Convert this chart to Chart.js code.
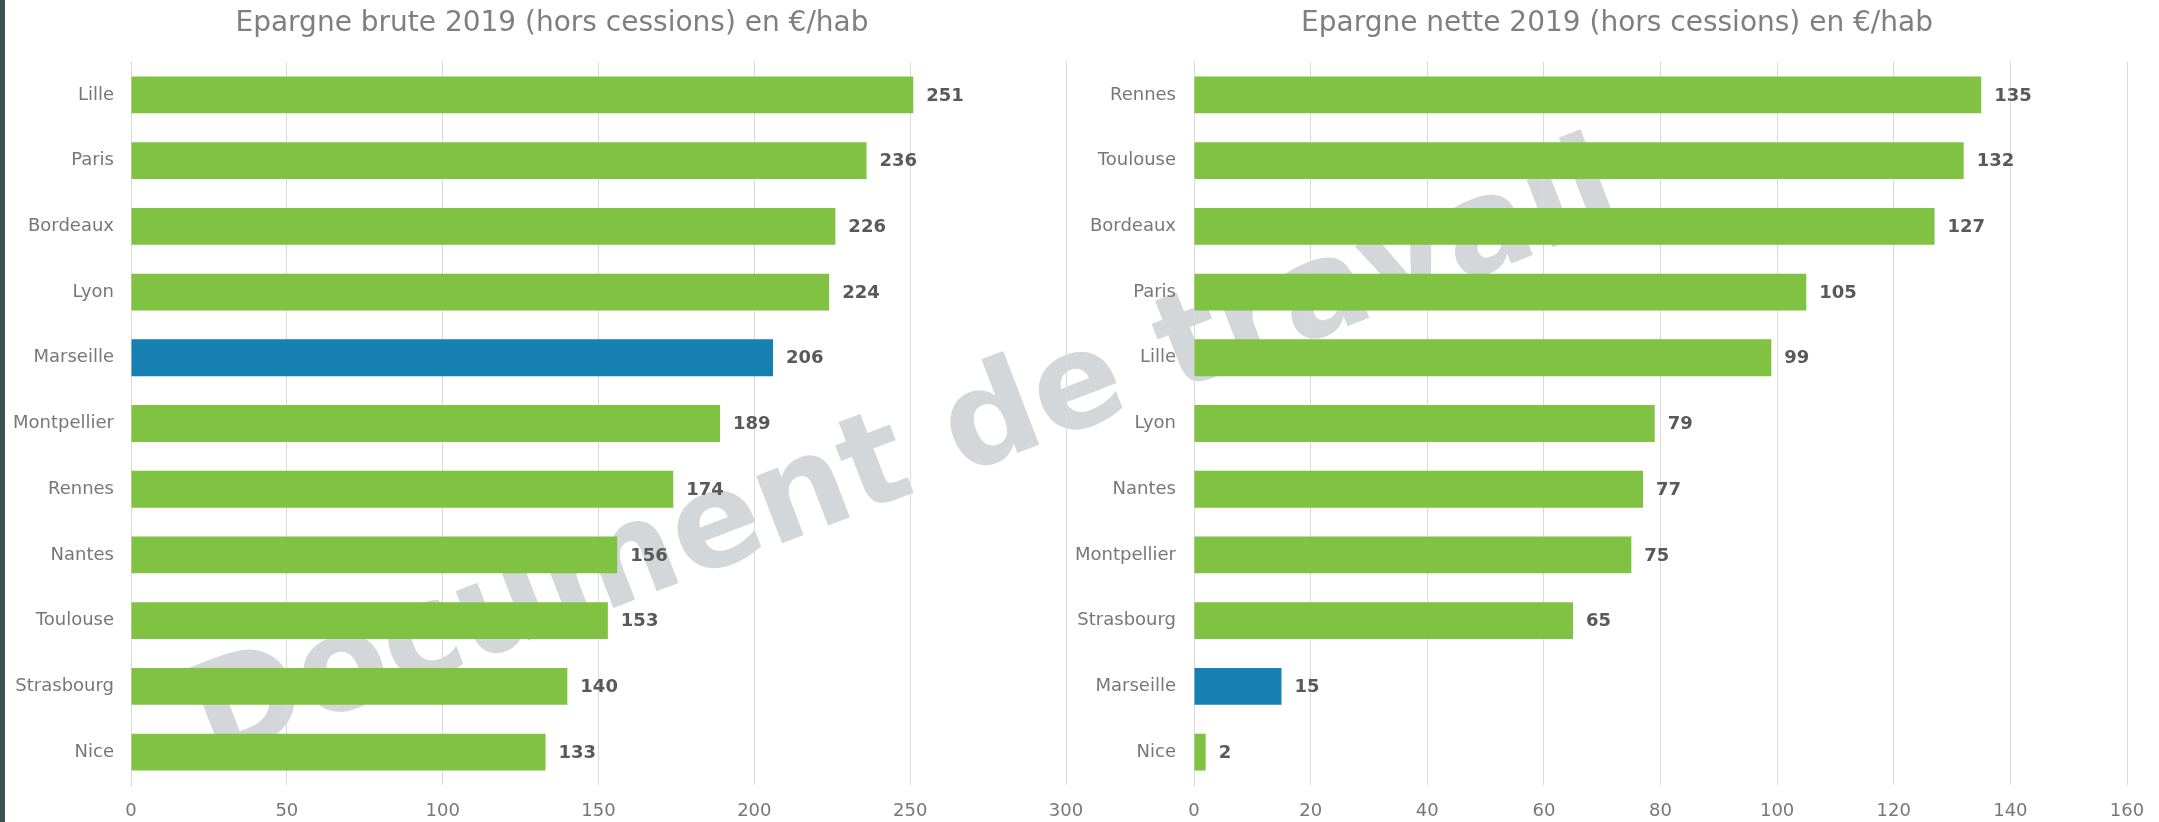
<!DOCTYPE html>
<html>
<head>
<meta charset="utf-8">
<script src="https://cdn.jsdelivr.net/npm/chart.js@4"></script>
<style>
  html, body { margin: 0; padding: 0; background: #ffffff; }
  body { width: 2159px; height: 822px; position: relative; overflow: hidden; }
  canvas { position: absolute; top: 0; }
  #c1 { left: 0; }
  #c2 { left: 1070px; }
  #strip { position: absolute; left: 0; top: 0; width: 5px; height: 822px; background: #3c5250; }
</style>
</head>
<body>
<canvas id="c1" width="1100" height="822"></canvas>
<canvas id="c2" width="1089" height="822"></canvas>
<div id="strip"></div>
<script>
// ---- Data ----
const brutTitle = "Epargne brute 2019 (hors cessions) en €/hab";
const brutCities = ["Lille", "Paris", "Bordeaux", "Lyon", "Marseille", "Montpellier", "Rennes", "Nantes", "Toulouse", "Strasbourg", "Nice"];
const brutValues = [251, 236, 226, 224, 206, 189, 174, 156, 153, 140, 133];
const brutTicks = [0, 50, 100, 150, 200, 250, 300];

const netTitle = "Epargne nette 2019 (hors cessions) en €/hab";
const netCities = ["Rennes", "Toulouse", "Bordeaux", "Paris", "Lille", "Lyon", "Nantes", "Montpellier", "Strasbourg", "Marseille", "Nice"];
const netValues = [135, 132, 127, 105, 99, 79, 77, 75, 65, 15, 2];
const netTicks = [0, 20, 40, 60, 80, 100, 120, 140, 160];

const highlightCity = "Marseille";
const watermarkText = "Document de travail";

// ---- Styles ----
const FONT = '"DejaVu Sans", Verdana, sans-serif';
const GREEN = '#80c242';
const BLUE = '#1680b3';
const GRID = '#d9d9d9';
const LABEL = '#777777';

const watermarkPlugin = {
  id: 'watermark',
  beforeDraw(chart, args, opts) {
    const ctx = chart.ctx;
    ctx.save();
    ctx.translate(212 - opts.offsetX, 762);
    ctx.rotate(-21 * Math.PI / 180);
    ctx.font = 'bold 132px ' + FONT;
    ctx.fillStyle = '#d3d7d9';
    ctx.textAlign = 'left';
    ctx.textBaseline = 'alphabetic';
    ctx.fillText(watermarkText, 0, 0);
    ctx.restore();
  }
};

const titleShiftPlugin = {
  id: 'titleShift',
  afterLayout(chart, args, opts) {
    const tb = chart.titleBlock;
    if (tb) {
      const half = (tb.right - tb.left) / 2;
      tb.left = opts.center - half;
      tb.right = opts.center + half;
    }
  }
};

const valueLabelPlugin = {
  id: 'valueLabels',
  afterDatasetsDraw(chart) {
    const ctx = chart.ctx;
    const meta = chart.getDatasetMeta(0);
    const data = chart.data.datasets[0].data;
    ctx.save();
    ctx.font = 'bold 18px ' + FONT;
    ctx.fillStyle = '#595959';
    ctx.textAlign = 'left';
    ctx.textBaseline = 'middle';
    meta.data.forEach((bar, i) => {
      ctx.fillText(String(data[i]), bar.x + 13, bar.y + 1);
    });
    ctx.restore();
  }
};

function makeChart(id, title, cities, values, ticks, opts) {
  const colors = cities.map(c => c === highlightCity ? BLUE : GREEN);
  return new Chart(document.getElementById(id), {
    type: 'bar',
    data: {
      labels: cities,
      datasets: [{
        data: values,
        backgroundColor: colors,
        borderWidth: 0,
        barPercentage: 0.56,
        categoryPercentage: 1.0
      }]
    },
    options: {
      indexAxis: 'y',
      responsive: false,
      animation: false,
      devicePixelRatio: 1,
      layout: { padding: { top: 0, right: opts.padRight, bottom: 0, left: 0 } },
      plugins: {
        legend: { display: false },
        tooltip: { enabled: false },
        title: {
          display: true,
          text: title,
          color: '#7f7f7f',
          font: { family: FONT, size: 28, weight: 'normal', lineHeight: 1.2 },
          padding: { top: 7, bottom: 21.4 }
        },
        watermark: { offsetX: opts.offsetX },
        titleShift: { center: opts.titleCenter }
      },
      scales: {
        x: {
          type: 'linear',
          min: ticks[0],
          max: ticks[ticks.length - 1],
          afterBuildTicks(scale) { scale.ticks = ticks.map(v => ({ value: v })); },
          afterFit(scale) { scale.height = 37; scale.paddingLeft = 0; scale.paddingRight = 0; },
          grid: { color: GRID, lineWidth: 1, drawTicks: false },
          border: { display: false },
          ticks: { color: LABEL, padding: 16, font: { family: FONT, size: 18 }, maxRotation: 0, autoSkip: false }
        },
        y: {
          afterFit(scale) { scale.width = opts.yWidth; },
          grid: { display: false, drawTicks: false },
          border: { display: true, color: GRID, width: 1 },
          ticks: { color: LABEL, padding: opts.labelPad, font: { family: FONT, size: 18 }, autoSkip: false }
        }
      }
    },
    plugins: [watermarkPlugin, titleShiftPlugin, valueLabelPlugin]
  });
}

makeChart('c1', brutTitle, brutCities, brutValues, brutTicks,
  { padRight: 34, offsetX: 0, titleCenter: 552, yWidth: 131, labelPad: 17 });
makeChart('c2', netTitle, netCities, netValues, netTicks,
  { padRight: 32, offsetX: 1070, titleCenter: 547, yWidth: 124, labelPad: 18 });
</script>
</body>
</html>
